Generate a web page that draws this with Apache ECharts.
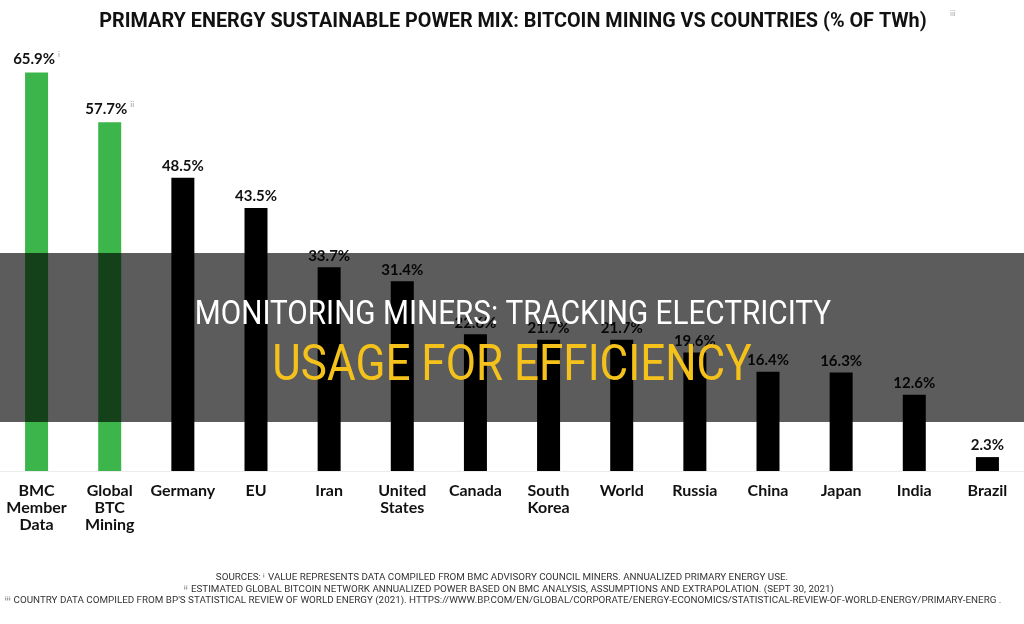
<!DOCTYPE html>
<html>
<head>
    <meta charset="utf-8">
    <title>ECharts</title>
    <script src="https://cdn.jsdelivr.net/npm/echarts@6/dist/echarts.min.js"></script>
    <style type="text/css">
        * { margin: 0; padding: 0; }
        body { background: #fff; }
    </style>
</head>
<body>
<div id="main" style="width: 1024px; height: 624px;"></div>
<script type="text/javascript">
    // data
    var categories = ['BMC\nMember\nData', 'Global\nBTC\nMining', 'Germany', 'EU', 'Iran', 'United\nStates',
        'Canada', 'South\nKorea', 'World', 'Russia', 'China', 'Japan', 'India', 'Brazil'];
    var values = [65.9, 57.7, 48.5, 43.5, 33.7, 31.4, 22.6, 21.7, 21.7, 19.6, 16.4, 16.3, 12.6, 2.3];
    var notes = ['i', 'ii', '', '', '', '', '', '', '', '', '', '', '', ''];
    var isBitcoin = [true, true, false, false, false, false, false, false, false, false, false, false, false, false];

    var titleText = 'PRIMARY ENERGY SUSTAINABLE POWER MIX: BITCOIN MINING VS COUNTRIES (% OF TWh)';
    var sources = [
        'SOURCES: \u2071 VALUE REPRESENTS DATA COMPILED FROM BMC ADVISORY COUNCIL MINERS. ANNUALIZED PRIMARY ENERGY USE.',
        '\u2071\u2071 ESTIMATED GLOBAL BITCOIN NETWORK ANNUALIZED POWER BASED ON BMC ANALYSIS, ASSUMPTIONS AND EXTRAPOLATION. (SEPT 30, 2021)',
        '\u2071\u2071\u2071 COUNTRY DATA COMPILED FROM BP\'S STATISTICAL REVIEW OF WORLD ENERGY (2021). HTTPS://WWW.BP.COM/EN/GLOBAL/CORPORATE/ENERGY-ECONOMICS/STATISTICAL-REVIEW-OF-WORLD-ENERGY/PRIMARY-ENERG .'
    ];
    var bannerLine1 = 'MONITORING MINERS: TRACKING ELECTRICITY';
    var bannerLine2 = 'USAGE FOR EFFICIENCY';

    var myChart = echarts.init(document.getElementById('main'));

    var barData = values.map(function (v, i) {
        return {
            value: v,
            itemStyle: { color: isBitcoin[i] ? '#3cb54a' : '#000000' }
        };
    });

    // small helper for the centred, horizontally squeezed texts
    function squeezed(text, x, y, size, sx, color, weight, z) {
        return {
            type: 'text', x: x, y: y, scaleX: sx, z: z || 10,
            style: {
                text: text, x: 0, y: 0, textAlign: 'center', textVerticalAlign: 'middle',
                fontFamily: 'Roboto', fontWeight: weight || 'normal', fontSize: size, fill: color
            }
        };
    }

    var option = {
        backgroundColor: '#ffffff',
        animation: false,
        grid: { left: -1, width: 1033, top: 72, bottom: 153 },
        xAxis: {
            type: 'category',
            data: categories,
            axisTick: { show: false },
            axisLine: { lineStyle: { color: '#ececec', width: 1 } },
            axisLabel: {
                interval: 0,
                margin: 11,
                color: '#111',
                fontFamily: 'Lato',
                fontWeight: 'bold',
                fontSize: 16,
                lineHeight: 17
            }
        },
        yAxis: {
            type: 'value',
            min: 0,
            max: 66,
            show: false,
            splitLine: { show: false }
        },
        series: [{
            type: 'bar',
            barWidth: 23,
            data: barData,
            label: {
                show: true,
                position: 'top',
                distance: 4,
                formatter: function (p) {
                    var n = notes[p.dataIndex];
                    return '{v|' + p.value + '%}' + (n ? '{s|' + n + '}' : '');
                },
                rich: {
                    v: { fontFamily: 'Lato', fontWeight: 'bold', fontSize: 15, color: '#111' },
                    s: { fontFamily: 'Lato', fontSize: 8, color: '#999', verticalAlign: 'top', padding: [0, 0, 10, 3] }
                }
            }
        }],
        graphic: [
            squeezed(titleText, 513, 22, 20, 0.99, '#111', 'bold'),
            {
                type: 'text', x: 950, y: 9,
                style: { text: 'iii', fontFamily: 'Lato', fontSize: 8, fill: '#aaa' }
            },
            squeezed(sources[0], 502, 578, 9, 1.09, '#333'),
            squeezed(sources[1], 509, 590, 9, 1.09, '#333'),
            squeezed(sources[2], 503, 601, 9, 1.09, '#333'),
            {
                type: 'rect', z: 100,
                shape: { x: 0, y: 253, width: 1024, height: 169 },
                style: { fill: 'rgba(0,0,0,0.64)' }
            },
            squeezed(bannerLine1, 513, 316, 33, 0.90, '#ffffff', 'normal', 101),
            squeezed(bannerLine2, 512, 367, 50, 0.88, '#f5c21b', 'normal', 101)
        ]
    };

    myChart.setOption(option);

    window.addEventListener('resize', function () {
        myChart.resize();
    });
</script>
</body>
</html>
